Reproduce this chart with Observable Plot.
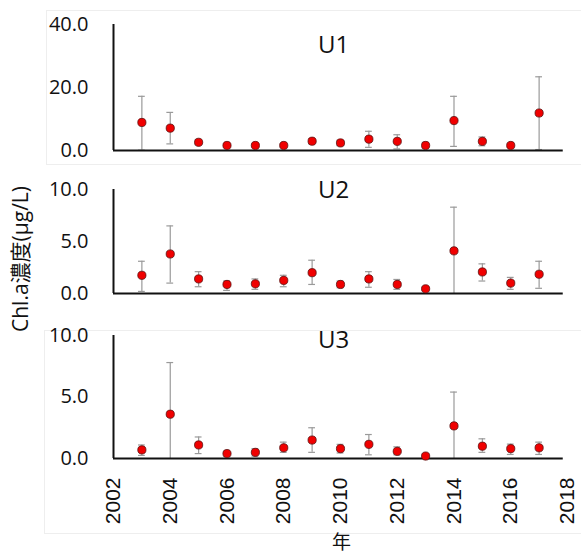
<!DOCTYPE html>
<html>
<head>
<meta charset="utf-8">
<script src="https://cdn.jsdelivr.net/npm/d3@7"></script>
<script src="https://cdn.jsdelivr.net/npm/@observablehq/plot@0.6"></script>
<style>
  html, body { margin: 0; padding: 0; background: #fff; }
  #wrap { position: relative; width: 581px; height: 555px; overflow: hidden; background: #fff; }
  .box { position: absolute; border: 1px solid #eeeeee; }
  #ylab { position: absolute; left: 19px; top: 259px; transform: translate(-50%, -50%) rotate(-90deg);
    font-family: "Open Sans", "Noto Sans CJK JP", sans-serif; font-size: 21px; white-space: nowrap; color: #111; }
</style>
</head>
<body>
<div id="wrap">
  <div class="box" style="left:46px;top:10px;width:534px;height:153px;"></div>
  <div class="box" style="left:44px;top:330px;width:536px;height:202px;"></div>
  <div id="ylab">Chl.a濃度(μg/L)</div>
</div>
<script>
const years = [2003, 2004, 2005, 2006, 2007, 2008, 2009, 2010, 2011, 2012, 2013, 2014, 2015, 2016, 2017];

const u1Mean = [8.9, 7.1, 2.6, 1.6, 1.6, 1.6, 2.95, 2.4, 3.6, 2.9, 1.6, 9.5, 2.9, 1.6, 11.9];
const u1Hi   = [17.2, 12.1, 3.5, 2.1, 2.1, 2.1, 3.8, 3.3, 6.1, 5.0, 2.6, 17.2, 4.3, 2.3, 23.4];
const u1Lo   = [0.1, 2.1, 1.8, 1.1, 1.1, 1.1, 2.1, 1.5, 1.0, 0.5, 0.8, 1.3, 1.5, 1.0, 0.3];

const u2Mean = [1.75, 3.8, 1.4, 0.87, 0.93, 1.26, 2.0, 0.87, 1.4, 0.87, 0.45, 4.1, 2.07, 1.0, 1.85];
const u2Hi   = [3.1, 6.5, 2.1, 1.2, 1.4, 1.75, 3.2, 1.2, 2.1, 1.35, 0.6, 8.3, 2.85, 1.55, 3.1];
const u2Lo   = [0.2, 1.0, 0.65, 0.3, 0.4, 0.65, 0.87, 0.55, 0.6, 0.4, 0.3, 0.0, 1.2, 0.4, 0.5];

const u3Mean = [0.7, 3.6, 1.1, 0.4, 0.5, 0.87, 1.5, 0.8, 1.15, 0.58, 0.2, 2.65, 1.0, 0.8, 0.87];
const u3Hi   = [1.1, 7.8, 1.75, 0.6, 0.8, 1.33, 2.5, 1.15, 1.95, 0.95, 0.35, 5.4, 1.6, 1.17, 1.33];
const u3Lo   = [0.25, 0.0, 0.4, 0.2, 0.2, 0.5, 0.5, 0.45, 0.3, 0.3, 0.1, 0.0, 0.5, 0.33, 0.33];

const xTicks = [2002, 2004, 2006, 2008, 2010, 2012, 2014, 2016, 2018];
const yTicksU1 = [0, 20, 40];
const yTicksU23 = [0, 5, 10];
const xLabel = "年";

const panels = [
  {title: "U1", mean: u1Mean, hi: u1Hi, lo: u1Lo, yMax: 40, ticks: yTicksU1, top: 0, height: 165, mt: 24, mb: 15, titleDy: 21, xAxis: false},
  {title: "U2", mean: u2Mean, hi: u2Hi, lo: u2Lo, yMax: 10, ticks: yTicksU23, top: 165, height: 140, mt: 24, mb: 12, titleDy: 1, xAxis: false},
  {title: "U3", mean: u3Mean, hi: u3Hi, lo: u3Lo, yMax: 10, ticks: yTicksU23, top: 305, height: 250, mt: 30, mb: 97, titleDy: 5, xAxis: true}
];

const CAP = 0.12;
const wrap = document.getElementById("wrap");

for (const p of panels) {
  const data = years.map((y, i) => ({year: y, mean: p.mean[i], hi: p.hi[i], lo: p.lo[i]}));
  const marks = [
    Plot.axisY({ticks: p.ticks, tickSize: 0, tickPadding: 25, tickFormat: d3.format(".1f"),
      fontSize: 20, fontFamily: "Open Sans, sans-serif", fill: "#111", label: null}),
    p.xAxis
      ? Plot.axisX({ticks: xTicks, tickSize: 0, tickPadding: 19, tickRotate: -90, tickFormat: d => String(d),
          fontSize: 21, fontFamily: "Liberation Sans, Arial, sans-serif", fill: "#111", label: null})
      : Plot.axisX({ticks: [], label: null}),
    Plot.ruleX(data, {x: "year", y1: "lo", y2: "hi", stroke: "#9a9a9a", strokeWidth: 1.2}),
    Plot.ruleY(data, {y: "hi", x1: d => d.year - CAP, x2: d => d.year + CAP, stroke: "#9a9a9a", strokeWidth: 1.2}),
    Plot.ruleY(data.filter(d => d.lo > 0.05), {y: "lo", x1: d => d.year - CAP, x2: d => d.year + CAP, stroke: "#9a9a9a", strokeWidth: 1.2}),
    Plot.ruleX([2002], {stroke: "#111", strokeWidth: 2}),
    Plot.ruleY([0], {x1: 2002, x2: 2017.85, stroke: "#111", strokeWidth: 2}),
    Plot.dot(data, {x: "year", y: "mean", r: 4.1, fill: "#f00000", stroke: "#5a1010", strokeWidth: 0.8}),
    Plot.text([p.title], {frameAnchor: "top", dx: -7, dy: p.titleDy, lineAnchor: "middle",
      fontSize: 24, fontFamily: "Open Sans, sans-serif", fill: "#111"})
  ];
  if (p.xAxis) {
    marks.push(Plot.text([xLabel], {frameAnchor: "bottom", dx: 1, dy: 84, lineAnchor: "middle",
      fontSize: 19, fontFamily: "Noto Sans CJK JP, sans-serif", fill: "#111"}));
  }
  const chart = Plot.plot({
    width: 581,
    height: p.height,
    marginLeft: 113,
    marginRight: 14,
    marginTop: p.mt,
    marginBottom: p.mb,
    style: {background: "transparent", overflow: "visible", fontFamily: "Open Sans, sans-serif"},
    x: {domain: [2002, 2018]},
    y: {domain: [0, p.yMax]},
    marks
  });
  chart.style.position = "absolute";
  chart.style.top = p.top + "px";
  chart.style.left = "0px";
  wrap.appendChild(chart);
}
</script>
</body>
</html>
